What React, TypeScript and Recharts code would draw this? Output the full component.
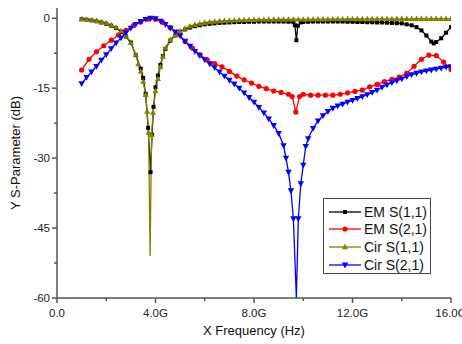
import React from "react";
import { Line, LineChart, XAxis, YAxis } from "recharts";

// frequency in GHz, S-parameters in dB
const emS11Freq = [
  1.0, 1.2, 1.4, 1.6, 1.8, 2.0, 2.2, 2.4, 2.6, 2.8, 3.0, 3.2, 3.4, 3.5, 3.6, 3.7, 3.8, 3.86, 3.92, 4.0,
  4.1, 4.2, 4.3, 4.4, 4.6, 4.8, 5.0, 5.2, 5.4, 5.6, 5.8, 6.0, 6.2, 6.4, 6.6, 6.8, 7.0, 7.2, 7.4, 7.6,
  7.8, 8.0, 8.2, 8.4, 8.6, 8.8, 9.0, 9.2, 9.4, 9.6, 9.66, 9.72, 9.78, 9.9, 10.0, 10.2, 10.4, 10.6, 10.8, 11.0,
  11.2, 11.4, 11.6, 11.8, 12.0, 12.2, 12.4, 12.6, 12.8, 13.0, 13.2, 13.4, 13.6, 13.8, 14.0, 14.2, 14.4, 14.6, 14.8, 15.0,
  15.2, 15.3, 15.4, 15.6, 15.8, 16.0,
];
const emS11 = [
  -0.2, -0.3, -0.45, -0.65, -0.9, -1.2, -1.6, -2.1, -2.9, -3.9, -5.2, -7.9, -10.8, -12.8, -16.2, -23.5, -33, -25, -19, -14.8,
  -12.3, -10.0, -8.1, -6.6, -4.8, -3.7, -2.9, -2.4, -2.0, -1.7, -1.5, -1.3, -1.2, -1.1, -1.0, -0.95, -0.9, -0.85, -0.8, -0.8,
  -0.75, -0.75, -0.7, -0.7, -0.7, -0.7, -0.7, -0.7, -0.75, -0.85, -1.5, -4.7, -1.6, -0.9, -0.8, -0.75, -0.7, -0.7, -0.7, -0.7,
  -0.7, -0.7, -0.7, -0.75, -0.75, -0.8, -0.8, -0.85, -0.85, -0.9, -0.9, -0.95, -1.0, -1.05, -1.1, -1.3, -1.5, -1.9, -2.6, -3.7,
  -5.0, -5.4, -5.1, -4.3, -3.1, -1.9,
];

const emS21Freq = [
  1.0, 1.3, 1.6, 1.9, 2.2, 2.5, 2.8, 3.1, 3.4, 3.7, 4.0, 4.3, 4.6, 4.9, 5.2, 5.5, 5.8, 6.1, 6.4, 6.7,
  7.0, 7.3, 7.6, 7.9, 8.2, 8.5, 8.8, 9.1, 9.4, 9.55, 9.7, 9.85, 10.0, 10.3, 10.6, 10.9, 11.2, 11.5, 11.8, 12.1,
  12.4, 12.7, 13.0, 13.3, 13.6, 13.9, 14.2, 14.5, 14.8, 15.1, 15.4, 15.7, 16.0,
];
const emS21 = [
  -11.1, -8.8, -7.2, -5.9, -4.7, -3.6, -2.6, -1.6, -0.8, -0.2, -0.2, -0.9, -2.0, -3.4, -5.0, -6.4, -7.8, -8.9, -9.7, -10.4,
  -11.4, -12.4, -13.2, -13.9, -14.6, -15.1, -15.6, -15.9, -16.3, -16.8, -20.1, -16.8, -16.3, -16.5, -16.5, -16.5, -16.5, -16.3, -16.0, -15.7,
  -15.4, -14.7, -14.2, -13.6, -13.1, -12.6, -11.8, -10.3, -8.8, -7.9, -8.0, -9.4, -11.0,
];

const cirS11Freq = [
  1.0, 1.2, 1.4, 1.6, 1.8, 2.0, 2.2, 2.4, 2.6, 2.8, 3.0, 3.2, 3.3, 3.4, 3.5, 3.6, 3.66, 3.72, 3.78, 3.84,
  3.9, 4.0, 4.1, 4.2, 4.3, 4.4, 4.6, 4.8, 5.0, 5.2, 5.4, 5.6, 5.8, 6.0, 6.2, 6.4, 6.6, 6.8, 7.0, 7.2,
  7.4, 7.6, 7.8, 8.0, 8.2, 8.4, 8.6, 8.8, 9.0, 9.2, 9.4, 9.6, 9.8, 10.0, 10.2, 10.4, 10.6, 10.8, 11.0, 11.2,
  11.4, 11.6, 11.8, 12.0, 12.2, 12.4, 12.6, 12.8, 13.0, 13.2, 13.4, 13.6, 13.8, 14.0, 14.2, 14.4, 14.6, 14.8, 15.0, 15.2,
  15.4, 15.6, 15.8, 16.0,
];
const cirS11 = [
  -0.15, -0.25, -0.4, -0.55, -0.8, -1.05, -1.45, -1.95, -2.7, -3.7, -5.2, -7.8, -9.8, -11.4, -13.6, -16.4, -20.0, -24.5, -51.0, -25.0,
  -20.2, -15.6, -13.0, -10.4, -8.2, -6.4, -4.6, -3.6, -2.8, -2.2, -1.7, -1.4, -1.15, -0.95, -0.8, -0.7, -0.6, -0.55, -0.5, -0.45,
  -0.4, -0.38, -0.35, -0.32, -0.3, -0.3, -0.28, -0.28, -0.26, -0.26, -0.25, -0.25, -0.24, -0.24, -0.22, -0.22, -0.2, -0.2, -0.2, -0.18,
  -0.18, -0.18, -0.16, -0.16, -0.16, -0.15, -0.15, -0.15, -0.14, -0.14, -0.13, -0.13, -0.12, -0.12, -0.12, -0.11, -0.11, -0.1, -0.1, -0.1,
  -0.1, -0.1, -0.1, -0.1,
];

const cirS21Freq = [
  1.0, 1.2, 1.4, 1.6, 1.8, 2.0, 2.2, 2.4, 2.6, 2.8, 3.0, 3.2, 3.4, 3.6, 3.8, 4.0, 4.2, 4.4, 4.6, 4.8,
  5.0, 5.2, 5.4, 5.6, 5.8, 6.0, 6.2, 6.4, 6.6, 6.8, 7.0, 7.2, 7.4, 7.6, 7.8, 8.0, 8.2, 8.4, 8.6, 8.8,
  9.0, 9.2, 9.3, 9.4, 9.5, 9.6, 9.72, 9.8, 9.9, 10.0, 10.1, 10.2, 10.4, 10.6, 10.8, 11.0, 11.2, 11.4, 11.6, 11.8,
  12.0, 12.2, 12.4, 12.6, 12.8, 13.0, 13.2, 13.4, 13.6, 13.8, 14.0, 14.2, 14.4, 14.6, 14.8, 15.0, 15.2, 15.4, 15.6, 15.8,
  16.0,
];
const cirS21 = [
  -14.0, -12.7, -11.5, -10.3, -9.0, -7.8, -6.5, -5.3, -4.2, -3.1, -2.1, -1.3, -0.7, -0.25, 0, -0.1, -0.6, -1.3, -2.1, -2.9,
  -3.8, -4.9, -6.0, -7.1, -8.0, -8.9, -9.8, -10.6, -11.5, -12.4, -13.3, -14.1, -15.0, -16.0, -17.0, -18.0, -19.1, -20.3, -21.6, -23.0,
  -24.7, -27.3, -30.0, -33.0, -37.0, -43.0, -60, -43.0, -35.5, -31.5, -27.5, -25.8, -23.6, -22.0, -20.9, -20.0, -19.3, -18.8, -18.4, -18.0,
  -17.6, -17.2, -16.8, -16.4, -15.9, -15.4, -14.8, -14.3, -13.8, -13.4, -13.0, -12.5, -12.1, -11.8, -11.5, -11.3, -11.1, -10.9, -10.7, -10.5,
  -10.4,
];

const xMajorTicks = [0, 4, 8, 12, 16];
const xTickLabels = ["0.0", "4.0G", "8.0G", "12.0G", "16.0G"];
const xMinorTicks = [2, 6, 10, 14];
const yMajorTicks = [-60, -45, -30, -15, 0];
const yTickLabels = ["-60", "-45", "-30", "-15", "0"];
const yMinorTicks = [-52.5, -37.5, -22.5, -7.5];

type Shape = "square" | "circle" | "triangle" | "triangleDown";

interface Series {
  key: string;
  label: string;
  color: string;
  shape: Shape;
  freq: number[];
  values: number[];
}

const series: Series[] = [
  { key: "emS11", label: "EM S(1,1)", color: "#000000", shape: "square", freq: emS11Freq, values: emS11 },
  { key: "emS21", label: "EM S(2,1)", color: "#ff0000", shape: "circle", freq: emS21Freq, values: emS21 },
  { key: "cirS11", label: "Cir S(1,1)", color: "#808000", shape: "triangle", freq: cirS11Freq, values: cirS11 },
  { key: "cirS21", label: "Cir S(2,1)", color: "#0000ff", shape: "triangleDown", freq: cirS21Freq, values: cirS21 },
];

const FONT = "'Liberation Sans', Arial, sans-serif";
const AXIS = "#555555";

function Marker({ shape, color, cx, cy }: { shape: Shape; color: string; cx: number; cy: number }) {
  if (shape === "square") {
    return <rect x={cx - 2} y={cy - 2} width={4} height={4} fill={color} />;
  }
  if (shape === "circle") {
    return <circle cx={cx} cy={cy} r={2.6} fill={color} />;
  }
  if (shape === "triangle") {
    return <path d={`M${cx},${cy - 3.2}L${cx + 3},${cy + 2.2}L${cx - 3},${cy + 2.2}Z`} fill={color} />;
  }
  return <path d={`M${cx},${cy + 3.4}L${cx + 3.2},${cy - 2.4}L${cx - 3.2},${cy - 2.4}Z`} fill={color} />;
}

function makeDot(s: Series) {
  return (p: any) => {
    const v = p.payload?.v;
    if (p.cx == null || p.cy == null || v < -45) return <g key={`${s.key}-${p.index}`} />;
    return (
      <g key={`${s.key}-${p.index}`}>
        <Marker shape={s.shape} color={s.color} cx={p.cx} cy={p.cy} />
      </g>
    );
  };
}

function XTick(props: any) {
  const { x, y, payload } = props;
  const i = xMajorTicks.indexOf(payload.value);
  const major = i >= 0;
  return (
    <g>
      <line x1={x} x2={x} y1={y} y2={y + (major ? 5 : 3)} stroke={AXIS} strokeWidth={1.5} />
      {major && (
        <text x={x} y={y + 19} textAnchor="middle" fontSize={11.5} fontFamily={FONT} fill="#222">
          {xTickLabels[i]}
        </text>
      )}
    </g>
  );
}

function YTick(props: any) {
  const { x, y, payload } = props;
  const i = yMajorTicks.indexOf(payload.value);
  const major = i >= 0;
  return (
    <g>
      <line x1={x - (major ? 5 : 3)} x2={x} y1={y} y2={y} stroke={AXIS} strokeWidth={1.5} />
      {major && (
        <text x={x - 7} y={y + 4} textAnchor="end" fontSize={11.5} fontFamily={FONT} fill="#222">
          {yTickLabels[i]}
        </text>
      )}
    </g>
  );
}

function Legend() {
  return (
    <div
      style={{
        position: "absolute",
        left: 323,
        top: 198,
        width: 106,
        height: 70,
        border: "1px solid #444",
        background: "#fff",
        paddingTop: 4,
        boxSizing: "content-box",
      }}
    >
      {series.map((s) => (
        <div
          key={s.key}
          style={{ display: "flex", alignItems: "center", height: 17.6, whiteSpace: "nowrap" }}
        >
          <svg width={36} height={10} style={{ marginLeft: 4, flex: "none" }}>
            <line x1={1} x2={33} y1={5} y2={5} stroke={s.color} strokeWidth={1.3} />
            <Marker shape={s.shape} color={s.color} cx={17} cy={5} />
          </svg>
          <span style={{ fontFamily: FONT, fontSize: 14, color: "#111", lineHeight: "14px" }}>{s.label}</span>
        </div>
      ))}
    </div>
  );
}

export default function App() {
  return (
    <div style={{ position: "absolute", left: 0, top: 0, width: 462, height: 344, background: "#fff" }}>
      <LineChart width={462} height={344} margin={{ top: 8, right: 11, bottom: 0, left: 0 }}>
        <XAxis
          type="number"
          dataKey="f"
          domain={[0, 16]}
          allowDataOverflow
          ticks={[...xMajorTicks, ...xMinorTicks]}
          interval={0}
          height={46}
          tickSize={0}
          tickMargin={0}
          tickLine={false}
          axisLine={{ stroke: AXIS, strokeWidth: 1.5 }}
          tick={<XTick />}
          label={{
            content: (p: any) => {
              const vb = p.viewBox;
              return (
                <text
                  x={vb.x + vb.width / 2}
                  y={vb.y + 37}
                  textAnchor="middle"
                  fontSize={13}
                  fontFamily={FONT}
                  fill="#111"
                >
                  X Frequency (Hz)
                </text>
              );
            },
          }}
        />
        <YAxis
          type="number"
          domain={[-60, 2.2]}
          allowDataOverflow
          ticks={[...yMajorTicks, ...yMinorTicks]}
          interval={0}
          width={57}
          tickSize={0}
          tickMargin={0}
          tickLine={false}
          axisLine={{ stroke: AXIS, strokeWidth: 1.5 }}
          tick={<YTick />}
          label={{
            content: (p: any) => {
              const vb = p.viewBox;
              const cx = vb.x + 15;
              const cy = vb.y + vb.height / 2;
              return (
                <text
                  x={cx}
                  y={cy}
                  transform={`rotate(-90 ${cx} ${cy})`}
                  textAnchor="middle"
                  dominantBaseline="central"
                  fontSize={13}
                  fontFamily={FONT}
                  fill="#111"
                >
                  Y S-Parameter (dB)
                </text>
              );
            },
          }}
        />
        {series.map((s) => (
          <Line
            key={s.key}
            data={s.freq.map((f, i) => ({ f, v: s.values[i] }))}
            dataKey="v"
            name={s.label}
            type="linear"
            stroke={s.color}
            strokeWidth={1.3}
            dot={makeDot(s)}
            activeDot={false}
            isAnimationActive={false}
          />
        ))}
      </LineChart>
      <Legend />
    </div>
  );
}
